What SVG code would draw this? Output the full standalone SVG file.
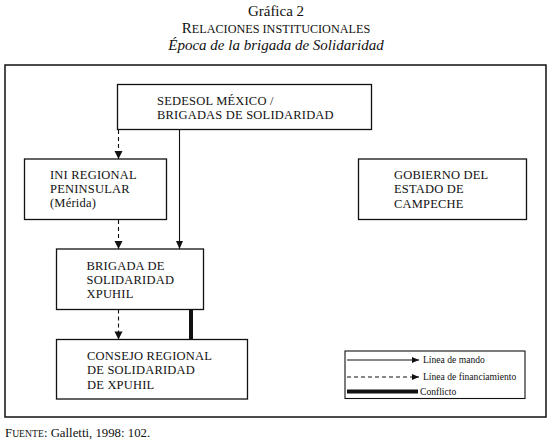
<svg xmlns="http://www.w3.org/2000/svg" width="553" height="444" viewBox="0 0 553 444">
<style>
.t{font-family:"Liberation Serif","Times New Roman",serif;fill:#111}
.n{font-size:12.5px;letter-spacing:0.2px}
.lg{font-size:9.6px}
.box{fill:#fff;stroke:#111;stroke-width:1.3}
.sol{stroke:#111;stroke-width:1.1;fill:none}
.dsh{stroke:#111;stroke-width:1.1;fill:none;stroke-dasharray:4 3}
.thk{stroke:#111;stroke-width:4;fill:none}
</style>
<defs>
<marker id="ah" markerUnits="userSpaceOnUse" markerWidth="8" markerHeight="8" viewBox="0 0 8 8" refX="8" refY="4" orient="auto">
<path d="M0,0.5 L8,4 L0,7.5 Z" fill="#111"/>
</marker>
<marker id="ahs" markerUnits="userSpaceOnUse" markerWidth="7" markerHeight="7" viewBox="0 0 7 7" refX="7" refY="3.5" orient="auto">
<path d="M0,0.5 L7,3.5 L0,6.5 Z" fill="#111"/>
</marker>
</defs>
<rect width="553" height="444" fill="#fff"/>
<g id="title">
<text class="t" x="276" y="16" text-anchor="middle" font-size="15">Gráfica 2</text>
<text class="t" x="276" y="33" text-anchor="middle" font-size="15">R<tspan font-size="12.2">ELACIONES INSTITUCIONALES</tspan></text>
<text class="t" x="276" y="50" text-anchor="middle" font-size="15" font-style="italic">Época de la brigada de Solidaridad</text>
</g>
<rect id="frame" x="5" y="65" width="541" height="352" fill="none" stroke="#111" stroke-width="1.5"/>
<g id="connectors">
<line class="dsh" x1="118.5" y1="130" x2="118.5" y2="159"/>
<line class="sol" x1="179.5" y1="130" x2="179.5" y2="249" marker-end="url(#ah)"/>
<line class="dsh" x1="118.5" y1="220" x2="118.5" y2="249"/>
<line class="dsh" x1="118.5" y1="309.5" x2="118.5" y2="339.5"/>
<line class="thk" x1="191" y1="309.5" x2="191" y2="339.5"/>
<path d="M114.5,151 L122.5,151 L118.5,159 Z" fill="#111"/>
<path d="M114.5,241 L122.5,241 L118.5,249 Z" fill="#111"/>
<path d="M114.5,331.5 L122.5,331.5 L118.5,339.5 Z" fill="#111"/>
</g>
<g id="sedesol">
<rect class="box" x="117.5" y="84.5" width="254" height="45"/>
<text class="t n" x="157" y="105">SEDESOL MÉXICO /</text>
<text class="t n" x="157" y="119">BRIGADAS DE SOLIDARIDAD</text>
</g>
<g id="ini">
<rect class="box" x="24.5" y="159" width="142" height="60.5"/>
<text class="t n" x="50" y="178.5">INI REGIONAL</text>
<text class="t n" x="50" y="192.5">PENINSULAR</text>
<text class="t n" x="50" y="207">(Mérida)</text>
</g>
<g id="gobierno">
<rect class="box" x="358.5" y="159" width="168" height="60.5"/>
<text class="t n" x="394" y="179">GOBIERNO DEL</text>
<text class="t n" x="394" y="193">ESTADO DE</text>
<text class="t n" x="394" y="207.5">CAMPECHE</text>
</g>
<g id="brigada">
<rect class="box" x="56.5" y="249" width="147" height="60.5"/>
<text class="t n" x="86.5" y="269.5">BRIGADA DE</text>
<text class="t n" x="86.5" y="283.5">SOLIDARIDAD</text>
<text class="t n" x="86.5" y="297.5">XPUHIL</text>
</g>
<g id="consejo">
<rect class="box" x="56.5" y="339.5" width="191" height="59.5"/>
<text class="t n" x="87" y="359.5">CONSEJO REGIONAL</text>
<text class="t n" x="87" y="373.5">DE SOLIDARIDAD</text>
<text class="t n" x="87" y="388.5">DE XPUHIL</text>
</g>
<g id="legend">
<rect x="345" y="351" width="180" height="47.5" fill="#fff" stroke="#111" stroke-width="1.1"/>
<line class="sol" x1="347" y1="360" x2="419" y2="360" marker-end="url(#ahs)"/>
<text class="t lg" x="423" y="363">Línea de mando</text>
<line class="dsh" x1="347" y1="377" x2="419" y2="377" marker-end="url(#ahs)"/>
<text class="t lg" x="423" y="380">Línea de financiamiento</text>
<line class="thk" x1="347" y1="391.5" x2="418" y2="391.5"/>
<text class="t lg" x="420" y="394.5">Conflicto</text>
</g>
<g id="source">
<text class="t" x="5" y="436.5" font-size="12.8">F<tspan font-size="9.7">UENTE</tspan>: Galletti, 1998: 102.</text>
</g>
</svg>
